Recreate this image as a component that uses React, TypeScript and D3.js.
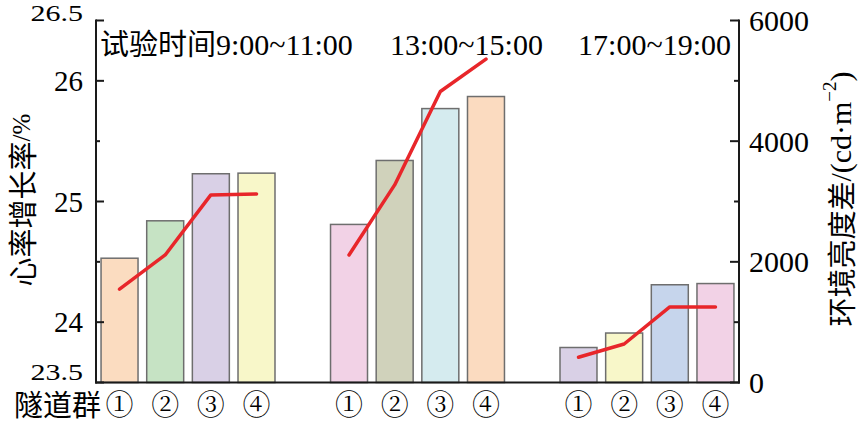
import * as d3 from 'd3';
import React from 'react';

const groups = ['9:00~11:00', '13:00~15:00', '17:00~19:00'];
const groupLabels = ['试验时间9:00~11:00', '13:00~15:00', '17:00~19:00'];
const tunnels = ['①', '②', '③', '④'];

// heart rate growth (%), left axis
const heartRate = [
  [24.53, 24.84, 25.23, 25.235],
  [24.81, 25.34, 25.77, 25.87],
  [23.79, 23.91, 24.31, 24.32]
];

// environment brightness difference (cd/m2), right axis
const brightness = [
  [1546, 2114, 3109, 3126],
  [2114, 3275, 4823, 5360],
  [418, 638, 1252, 1252]
];

const barColors = [
  ['#fbdcc0', '#c6e3c4', '#d9d0e6', '#f8f7c9'],
  ['#f2d2e6', '#d0d2bb', '#d5ebef', '#fbdbc0'],
  ['#d9d0e6', '#f8f7c9', '#c6d5ec', '#f2d2e6']
];

const leftTicks = [23.5, 24, 24.5, 25, 25.5, 26, 26.5];
const leftLabels = ['23.5', '24', '', '25', '', '26', '26.5'];
const rightTicks = [0, 1000, 2000, 3000, 4000, 5000, 6000];
const rightLabels = ['0', '', '2000', '', '4000', '', '6000'];

const W = 861;
const H = 423;
const left = 96;
const right = 739;
const top = 20.5;
const bottom = 382.5;

const serif = 'Liberation Serif';
const cjk = 'Noto Sans CJK SC';
const cjkSerif = 'Noto Serif CJK SC';

const App = () => {
  const x0 = d3.scaleBand().domain(groups).range([left, right]).paddingInner(0.242).paddingOuter(0.022);
  const x1 = d3.scaleBand().domain(tunnels).range([0, x0.bandwidth()]).paddingInner(0.19);
  const yL = d3.scaleLinear().domain([23.5, 26.5]).range([bottom, top]);
  const yR = d3.scaleLinear().domain([0, 6000]).range([bottom, top]);

  const line = d3
    .line<number>()
    .x((_, i) => x1(tunnels[i]) + x1.bandwidth() / 2)
    .y((d) => yR(d));

  return (
    <svg width={W} height={H} style={{ position: 'absolute', left: 0, top: 0, background: '#fff' }}>
      {groups.map((g, gi) => (
        <g key={g} transform={`translate(${x0(g)},0)`}>
          {tunnels.map((t, ti) => (
            <rect
              key={t}
              x={x1(t)}
              y={yL(heartRate[gi][ti])}
              width={x1.bandwidth()}
              height={bottom - yL(heartRate[gi][ti])}
              fill={barColors[gi][ti]}
              stroke="#6e6e6e"
              strokeWidth={1.5}
            />
          ))}
          <path
            d={line(brightness[gi])}
            fill="none"
            stroke="#e8262a"
            strokeWidth={3.5}
            strokeLinecap="round"
            strokeLinejoin="round"
          />
          {tunnels.map((t) => (
            <text
              key={t}
              x={x1(t) + x1.bandwidth() / 2}
              y={403}
              textAnchor="middle"
              dominantBaseline="central"
              fontFamily={cjkSerif}
              fontSize={28}
            >
              {t}
            </text>
          ))}
        </g>
      ))}

      {/* axes */}
      <g stroke="#1a1a1a" strokeWidth={2} fill="none">
        <line x1={left} x2={left} y1={top - 1} y2={bottom + 1} />
        <line x1={right} x2={right} y1={top - 1} y2={bottom + 1} />
        <line x1={left - 1} x2={right + 1} y1={bottom} y2={bottom} />
        {leftTicks.map((v, i) => (
          <line key={v} x1={left} x2={left + (leftLabels[i] ? 8 : 4)} y1={yL(v)} y2={yL(v)} />
        ))}
        {rightTicks.map((v, i) => (
          <line key={v} x1={right} x2={right - (rightLabels[i] ? 9 : 5)} y1={yR(v)} y2={yR(v)} />
        ))}
      </g>

      {leftTicks.map((v, i) => {
        if (!leftLabels[i]) return null;
        const isEnd = v === 23.5 || v === 26.5;
        const ty = v === 26.5 ? yL(v) - 7 : v === 23.5 ? yL(v) - 10 : yL(v);
        return (
          <text
            key={v}
            transform={`translate(83,${ty}) scale(${isEnd ? 1.25 : 1},1)`}
            textAnchor="end"
            dominantBaseline="central"
            fontFamily={serif}
            fontSize={isEnd ? 24 : 29}
          >
            {leftLabels[i]}
          </text>
        );
      })}
      {rightTicks.map((v, i) =>
        rightLabels[i] ? (
          <text key={v} x={749} y={yR(v)} dominantBaseline="central" fontFamily={serif} fontSize={30}>
            {rightLabels[i]}
          </text>
        ) : null
      )}

      {/* group titles */}
      <text x={100} y={55} fontFamily={serif} fontSize={30}>
        <tspan fontFamily={cjk} fontSize={29}>试验时间</tspan>
        {groups[0]}
      </text>
      <text x={390} y={55} fontFamily={serif} fontSize={30}>
        {groupLabels[1]}
      </text>
      <text x={731} y={55} textAnchor="end" fontFamily={serif} fontSize={30}>
        {groupLabels[2]}
      </text>

      <text x={101} y={403} textAnchor="end" dominantBaseline="central" fontFamily={cjk} fontSize={29}>
        隧道群
      </text>

      {/* axis titles */}
      <text
        transform="translate(21,200) rotate(-90)"
        textAnchor="middle"
        dominantBaseline="central"
        fontFamily={cjk}
        fontSize={29}
      >
        心率增长率
        <tspan fontFamily={serif} fontSize={25}>/%</tspan>
      </text>
      <text
        transform="translate(840,199) rotate(-90)"
        textAnchor="middle"
        dominantBaseline="central"
        fontFamily={cjk}
        fontSize={29}
      >
        环境亮度差
        <tspan fontFamily={serif} fontSize={30}>/(cd·m</tspan>
        <tspan fontFamily={serif} fontSize={19} dy={-11}>−2</tspan>
        <tspan fontFamily={serif} fontSize={30} dy={11}>)</tspan>
      </text>
    </svg>
  );
};

export default App;
